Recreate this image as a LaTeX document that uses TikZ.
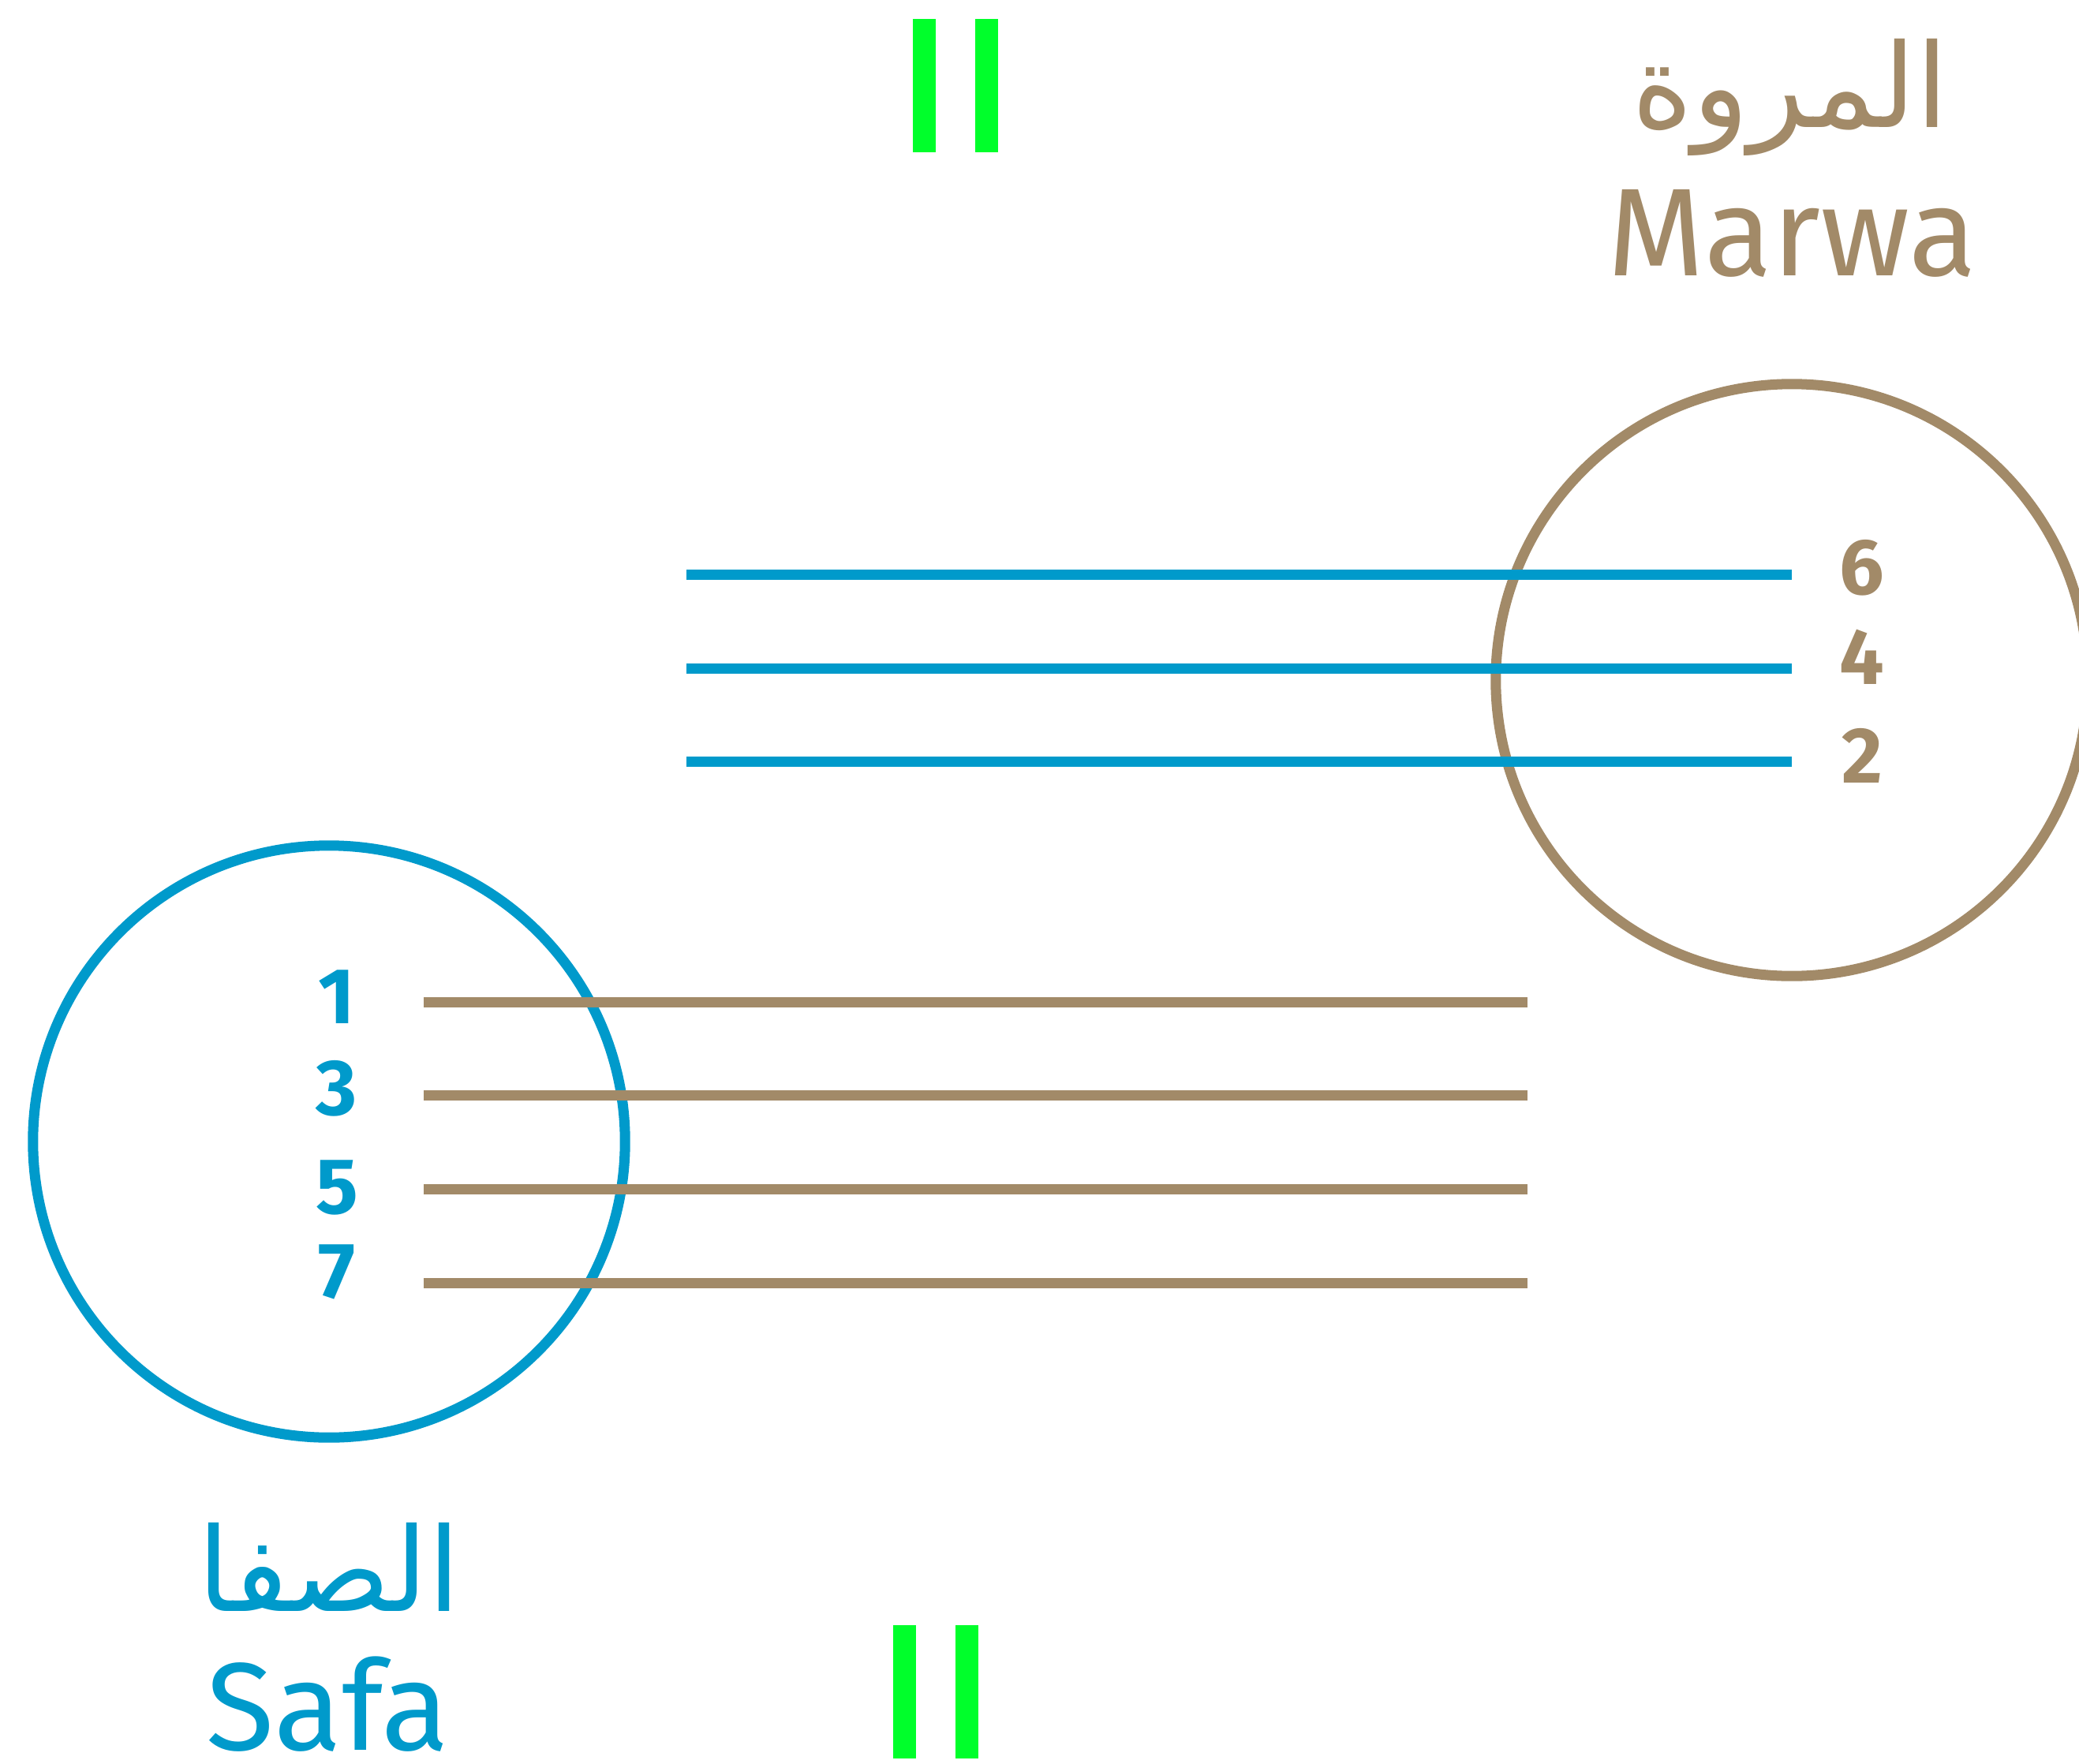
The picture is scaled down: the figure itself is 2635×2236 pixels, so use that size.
\documentclass[tikz,border=0pt]{standalone}
\usepackage{fontspec}
\setmainfont{Fira Sans}
\newfontfamily\arabicfont[Script=Arabic]{DejaVu Sans}
\TeXXeTstate=1
\usepackage{tikz}
\usetikzlibrary{positioning,calc}
\definecolor{safablue}{HTML}{009ACB}
\definecolor{marwabrown}{HTML}{A28A68}
\definecolor{lightgreen}{HTML}{00FF2B}

\begin{document}
\begin{tikzpicture}[x=0.01cm, y=-0.01cm]
	\tikzstyle{every node} = [inner sep = 0, outer sep = 0]
	\tikzstyle{blueline} = [draw = safablue, line width = 3.7pt]
	\tikzstyle{brownline} = [draw = marwabrown, line width = 3.7pt]
	\tikzstyle{greenbar} = [fill = lightgreen]
	\tikzstyle{lap} = [font = \fontsize{28.5}{30}\selectfont\bfseries, anchor = base]
	\tikzstyle{latinname} = [font = \fontsize{45}{50}\selectfont, anchor = base]
	\tikzstyle{arabicname} = [font = \fontsize{42}{46}\arabicfont, anchor = base]
\useasboundingbox (0,0) rectangle (2635,2236);
% the two hills
\coordinate (marwa) at (2271, 862);
\coordinate (safa) at (417, 1447);
	\path[brownline] (marwa) circle[radius = 3.75cm];
	\path[blueline] (safa) circle[radius = 3.75cm];
% laps from Safa to Marwa
\foreach \y [count = \i] in {728, 847, 965} {
	\coordinate (go\i) at (870, \y);
	\path[blueline] (go\i) -- (go\i -| marwa);
}
% laps from Marwa to Safa
\foreach \y [count = \i] in {1270, 1388, 1507, 1626} {
	\coordinate (back\i) at (537, \y);
	\path[brownline] (back\i) -- ($(back\i) + (1399, 0)$);
}
% lap numbers
\node[lap, text = marwabrown] (six) at (2360, 753) {6};
\node[lap, text = marwabrown] (four) at (2360, 867) {4};
\node[lap, text = marwabrown] (two) at (2360, 992) {2};
\node[lap, text = safablue] (one) at (427, 1297) {1};
\node[lap, text = safablue] (three) at (427, 1413) {3};
\node[lap, text = safablue] (five) at (427, 1538) {5};
\node[lap, text = safablue] (seven) at (427, 1645) {7};
% names
\node[arabicname, text = marwabrown] (marwaar) at (2269, 161) {\beginR المروة\endR};
\node[latinname, text = marwabrown] (marwaen) at (2271, 349) {Marwa};
\node[arabicname, text = safablue] (safaar) at (417, 2042) {\beginR الصفا\endR};
\node[latinname, text = safablue] (safaen) at (415, 2218) {Safa};
% green markers
	\fill[greenbar] (1157, 24) rectangle (1186, 193);
	\fill[greenbar] (1236, 24) rectangle (1265, 193);
	\fill[greenbar] (1132, 2060) rectangle (1161, 2229);
	\fill[greenbar] (1211, 2060) rectangle (1240, 2229);
\end{tikzpicture}
\end{document}
